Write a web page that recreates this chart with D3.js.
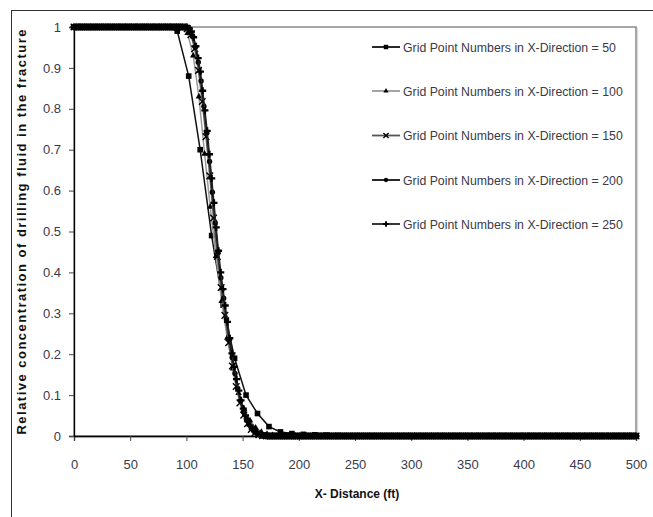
<!DOCTYPE html>
<html>
<head>
<meta charset="utf-8">
<script src="https://cdn.jsdelivr.net/npm/d3@7"></script>
<style>
  html, body { margin: 0; padding: 0; background: #fff; }
  svg { display: block; }
  .tick text { font-family: "Liberation Sans Narrow", "Arial Narrow", "Liberation Sans", sans-serif; font-size: 13px; fill: #3a3a4c; }
  .axis-title { font-family: "Liberation Sans", Arial, sans-serif; font-weight: bold; font-size: 12px; fill: #111; }
  .legend text { font-family: "Liberation Sans", Arial, sans-serif; font-size: 12.3px; fill: #3a3a48; }
</style>
</head>
<body>
<svg id="chart" width="653" height="517"></svg>
<script>
// tick labels
const xTicks = [0, 50, 100, 150, 200, 250, 300, 350, 400, 450, 500];
const yTicks = [0, 0.1, 0.2, 0.3, 0.4, 0.5, 0.6, 0.7, 0.8, 0.9, 1];

// grid point counts (one series each)
const gridCounts = [50, 100, 150, 200, 250];
const seriesNames = gridCounts.map(n => "Grid Point Numbers in X-Direction = " + n);

// concentration at each grid point: plateau of 1, read front, then 0
// leading ones count, front values
const lead50 = 9;
const front50 = [0.99, 0.88, 0.70, 0.49, 0.32, 0.19, 0.10, 0.055, 0.023, 0.010, 0.006, 0.004, 0.003, 0.002, 0.001];

const lead100 = 19;
const front100 = [0.998, 0.985, 0.93, 0.83, 0.69, 0.56, 0.44, 0.33, 0.24, 0.165, 0.105, 0.065, 0.038, 0.02, 0.01, 0.005, 0.002, 0.001];

const lead150 = 30;
const front150 = [0.996, 0.981, 0.947, 0.894, 0.818, 0.732, 0.636, 0.533, 0.439, 0.363, 0.295, 0.228, 0.171, 0.121, 0.081, 0.051, 0.030, 0.016, 0.008, 0.003, 0.001];

const lead200 = 40;
const front200 = [0.999, 0.995, 0.978, 0.951, 0.914, 0.868, 0.806, 0.742, 0.671, 0.596, 0.521, 0.450, 0.387, 0.337, 0.286, 0.236, 0.192, 0.153, 0.116, 0.086, 0.060, 0.042, 0.028, 0.018, 0.010, 0.0055, 0.0027, 0.0013, 0.0004];

const lead250 = 51;
const front250 = [0.997, 0.989, 0.975, 0.953, 0.924, 0.891, 0.844, 0.796, 0.746, 0.689, 0.630, 0.570, 0.510, 0.453, 0.400, 0.359, 0.319, 0.279, 0.239, 0.202, 0.169, 0.139, 0.111, 0.087, 0.067, 0.050, 0.036, 0.026, 0.017, 0.012, 0.008, 0.005, 0.002, 0.0014, 0.0006];

const leads = [lead50, lead100, lead150, lead200, lead250];
const fronts = [front50, front100, front150, front200, front250];

const lineColors = ["#111", "#9a9a9a", "#555", "#111", "#222"];
const markerTypes = ["square", "triangle", "cross", "circle", "plus"];

const svg = d3.select("#chart");
const plot = { left: 74, right: 636, top: 27, bottom: 436 };

const x = d3.scaleLinear().domain([0, 500]).range([plot.left, plot.right]);
const y = d3.scaleLinear().domain([0, 1]).range([plot.bottom, plot.top]);

// outer frame
svg.append("rect")
    .attr("x", 11.5).attr("y", 10.5)
    .attr("width", 700).attr("height", 600)
    .attr("fill", "none").attr("stroke", "#333").attr("stroke-width", 1);

// plot area border (grey top and right with a faint shadow)
svg.append("rect")
    .attr("x", plot.left + 1.5).attr("y", plot.top + 1.5)
    .attr("width", plot.right - plot.left).attr("height", plot.bottom - plot.top)
    .attr("fill", "none").attr("stroke", "#ddd").attr("stroke-width", 1.5);
svg.append("rect")
    .attr("x", plot.left).attr("y", plot.top)
    .attr("width", plot.right - plot.left).attr("height", plot.bottom - plot.top)
    .attr("fill", "#fff").attr("stroke", "#8a8a8a").attr("stroke-width", 1.5);

// axes
const xAxis = svg.append("g")
    .attr("transform", `translate(0,${plot.bottom})`)
    .call(d3.axisBottom(x).tickValues(xTicks).tickSize(5).tickPadding(19).tickFormat(d3.format("d")));
xAxis.select(".domain").attr("stroke", "#000").attr("stroke-width", 1.3);
xAxis.selectAll(".tick line").attr("stroke", "#444");

const yAxis = svg.append("g")
    .attr("transform", `translate(${plot.left},0)`)
    .call(d3.axisLeft(y).tickValues(yTicks).tickSize(5).tickPadding(8).tickFormat(d => d === 0 || d === 1 ? d : d3.format(".1f")(d)));
yAxis.select(".domain").attr("stroke", "#000").attr("stroke-width", 1.3);
yAxis.selectAll(".tick line").attr("stroke", "#444");

// axis titles
svg.append("text")
    .attr("class", "axis-title")
    .attr("x", 357).attr("y", 498)
    .attr("text-anchor", "middle")
    .text("X- Distance (ft)");

svg.append("text")
    .attr("class", "axis-title")
    .attr("transform", "translate(26,232) rotate(-90)")
    .attr("text-anchor", "middle")
    .style("font-size", "13px")
    .attr("textLength", 405).attr("lengthAdjust", "spacing")
    .text("Relative concentration of drilling fluid in the fracture");

// build series from the arrays
const series = gridCounts.map((n, k) => {
    const vals = [].concat(Array(leads[k]).fill(1), fronts[k]);
    while (vals.length < n) vals.push(0);
    return vals.map((v, i) => ({ x: i * 500 / (n - 1), v: v }));
});

function drawMarker(sel, type, color, s) {
    if (type === "square") {
        sel.append("rect").attr("x", -2.8 * s).attr("y", -2.8 * s).attr("width", 5.6 * s).attr("height", 5.6 * s).attr("fill", color);
    } else if (type === "triangle") {
        sel.append("path").attr("d", d3.symbol(d3.symbolTriangle, 18 * s * s)()).attr("fill", color);
    } else if (type === "circle") {
        sel.append("circle").attr("r", 2.7 * s).attr("fill", color);
    } else if (type === "cross") {
        sel.append("path").attr("d", d3.symbol(d3.symbolTimes, 30 * s * s)()).attr("fill", "none").attr("stroke", color).attr("stroke-width", 1.4);
    } else {
        sel.append("path").attr("d", d3.symbol(d3.symbolCross, 28 * s * s)()).attr("fill", color);
    }
}

const line = d3.line().x(d => x(d.x)).y(d => y(d.v));

const seriesG = svg.append("g");
series.forEach((pts, k) => {
    const g = seriesG.append("g");
    g.append("path")
        .datum(pts)
        .attr("d", line)
        .attr("fill", "none")
        .attr("stroke", lineColors[k])
        .attr("stroke-width", 1.5);
    g.selectAll(".pt")
        .data(pts)
        .enter().append("g")
        .attr("class", "pt")
        .attr("transform", d => `translate(${x(d.x)},${y(d.v)})`)
        .each(function () { drawMarker(d3.select(this), markerTypes[k], "#000", 1); });
});

// legend
const legendY = [47, 91, 135.5, 180, 224];
const legend = svg.append("g").attr("class", "legend");
seriesNames.forEach((name, k) => {
    const item = legend.append("g").attr("transform", `translate(372,${legendY[k]})`);
    item.append("line")
        .attr("x1", 0).attr("x2", 28)
        .attr("stroke", lineColors[k]).attr("stroke-width", 1.8);
    drawMarker(item.append("g").attr("transform", "translate(14,0)"), markerTypes[k], "#000", 0.8);
    item.append("text")
        .attr("x", 31).attr("y", 4.5)
        .text(name);
});
</script>
</body>
</html>
